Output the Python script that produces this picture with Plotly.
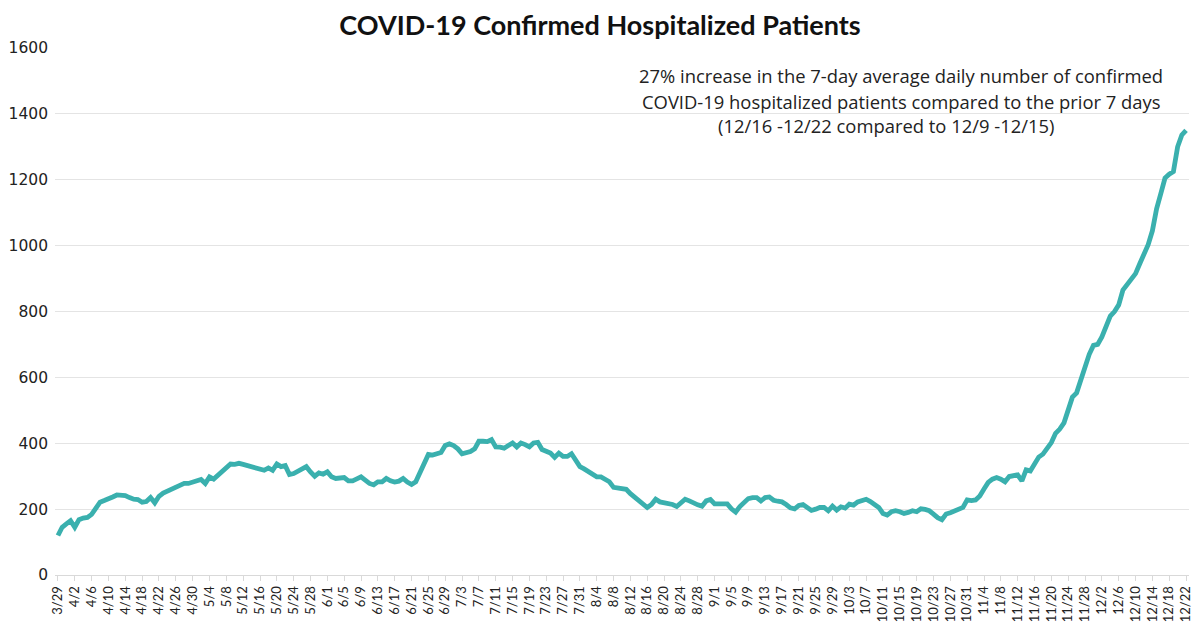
import pandas as pd
import plotly.graph_objects as go

# Dates (daily, 3/29 to 12/22)
start_date = "2020-03-29"
end_date = "2020-12-22"
dates = pd.date_range(start_date, end_date, freq="D")
date_labels = [f"{d.month}/{d.day}" for d in dates]

# Confirmed hospitalized patients
patients = [
    120, 145, 155, 165, 145, 168, 173, 175, 184, 201,
    221, 226, 230, 237, 243, 243, 241, 235, 230, 229,
    221, 223, 235, 219, 239, 249, 255, 262, 269, 274,
    278, 278, 283, 285, 290, 278, 298, 291, 303, 310,
    323, 337, 336, 339, 336, 332, 329, 326, 320, 318,
    325, 318, 337, 329, 332, 305, 308, 316, 323, 329,
    313, 300, 310, 306, 313, 298, 293, 294, 296, 286,
    286, 292, 298, 288, 278, 274, 283, 283, 293, 286,
    282, 285, 293, 282, 275, 283, 308, 334, 366, 364,
    368, 372, 393, 398, 393, 383, 368, 372, 375, 383,
    406, 406, 405, 411, 389, 388, 385, 393, 401, 389,
    401, 396, 389, 401, 403, 381, 377, 370, 357, 370,
    360, 360, 368, 350, 329, 322, 314, 309, 298, 298,
    290, 283, 266, 264, 265, 260, 247, 236, 229, 218,
    205, 214, 230, 222, 219, 218, 214, 208, 218, 230,
    225, 218, 213, 209, 225, 229, 216, 216, 216, 216,
    201, 191, 208, 218, 232, 235, 235, 225, 235, 237,
    227, 224, 222, 214, 204, 201, 211, 214, 204, 196,
    200, 205, 205, 195, 209, 197, 207, 203, 215, 212,
    222, 226, 230, 223, 215, 205, 187, 182, 192, 195,
    192, 187, 190, 195, 192, 201, 199, 195, 185, 174,
    168, 185, 189, 195, 197, 205, 228, 226, 228, 240,
    261, 281, 291, 296, 291, 283, 299, 300, 304, 286,
    319, 316, 336, 358, 367, 382, 402, 430, 443, 462,
    505, 540, 553, 596, 630, 670, 697, 700, 723, 756,
    786, 800, 820, 865, 882, 895, 915, 945, 975, 1003,
    1045, 1112, 1158, 1205, 1217, 1225, 1300, 1336, 1350,
]

tick_labels = date_labels[::4]

title_text = "COVID-19 Confirmed Hospitalized Patients"
note_lines = [
    "27% increase in the 7-day average daily number of confirmed",
    "COVID-19 hospitalized patients compared to the prior 7 days",
    "(12/16 -12/22 compared to 12/9 -12/15)",
]

# page offset of the figure inside the browser window
OFF = 8
W, H = 1200 - OFF, 630 - OFF
L, T, B, R = 55 - OFF, 48 - OFF, 55, 11
PW, PH = W - L - R, H - T - B

fig = go.Figure()
fig.add_trace(go.Scatter(
    x=list(range(len(patients))),
    y=patients,
    mode="lines",
    line=dict(color="#3AB0AE", width=4.8),
    hoverinfo="skip",
))

fig.update_layout(
    width=W, height=H,
    margin=dict(l=L, r=R, t=T, b=B),
    paper_bgcolor="white", plot_bgcolor="white",
    showlegend=False,
    title=dict(text=f"<b>{title_text}</b>", x=(600 - OFF) / W, xanchor="center",
               y=1 - (26 - OFF) / H, yanchor="middle",
               font=dict(family="Lato", size=27, color="#111111")),
    xaxis=dict(
        range=[-0.7, len(patients) - 0.3],
        tickmode="array",
        tickvals=list(range(0, len(patients), 4)),
        ticktext=tick_labels,
        tickangle=-90,
        tickfont=dict(family="Lato", size=13, color="#222222"),
        showgrid=False, zeroline=False,
        showline=True, linecolor="#d9d9d9", linewidth=1,
        ticks="outside", ticklen=5, tickcolor="#d9d9d9",
        automargin=False,
    ),
    yaxis=dict(
        range=[0, 1600], dtick=200,
        tickfont=dict(family="DejaVu Sans", size=15.5, color="#222222"),
        showgrid=True, gridcolor="#e4e4e4", gridwidth=1,
        zeroline=False, showline=False,
        ticks="", ticklabelstandoff=6,
        automargin=False,
    ),
)

note_y = [76, 101, 126]
note_x = [901, 901, 886]
for line, yy, xx in zip(note_lines, note_y, note_x):
    fig.add_annotation(
        text=line, xref="paper", yref="paper",
        x=(xx - OFF - L) / PW, y=1 - (yy - OFF - T) / PH,
        xanchor="center", yanchor="middle", showarrow=False,
        font=dict(family="Open Sans", size=18.4, color="#222222"),
    )

fig.write_html("out.html")
